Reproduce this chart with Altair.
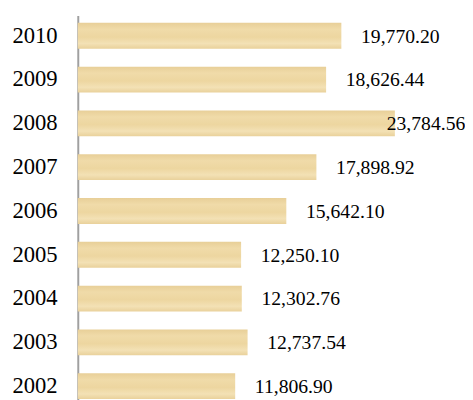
import altair as alt
import pandas as pd

years = ["2010", "2009", "2008", "2007", "2006", "2005", "2004", "2003", "2002"]
values = [19770.20, 18626.44, 23784.56, 17898.92, 15642.10, 12250.10, 12302.76, 12737.54, 11806.90]
labels = ["19,770.20", "18,626.44", "23,784.56", "17,898.92", "15,642.10",
          "12,250.10", "12,302.76", "12,737.54", "11,806.90"]

df = pd.DataFrame({"year": years, "value": values, "label": labels})

y_enc = alt.Y("year:N", sort=years, title=None,
              scale=alt.Scale(paddingInner=0.41, paddingOuter=0.17),
              axis=alt.Axis(labelFont="Liberation Serif", labelFontSize=23,
                            labelColor="#000000", labelPadding=21, ticks=False,
                            domainColor="#A0A0A0", domainWidth=2, grid=False))
x_scale = alt.Scale(domain=[0, 29045], nice=False)

fill = alt.Gradient(
    gradient="linear",
    stops=[
        alt.GradientStop(color="#E8CF98", offset=0),
        alt.GradientStop(color="#F0DBA9", offset=0.25),
        alt.GradientStop(color="#EDD6A0", offset=0.55),
        alt.GradientStop(color="#F3E1B5", offset=0.8),
        alt.GradientStop(color="#E9D19B", offset=1),
    ],
    x1=0, x2=0, y1=0, y2=1,
)

bars = alt.Chart(df).mark_bar(color=fill, clip=False).encode(
    x=alt.X("value:Q", scale=x_scale, axis=None),
    y=y_enc,
)

text = alt.Chart(df).transform_calculate(
    lx="min(datum.value, 21700)"
).mark_text(align="left", baseline="middle", dx=20, dy=1,
            font="Liberation Serif", fontSize=20, color="#000000").encode(
    x=alt.X("lx:Q", scale=x_scale, axis=None),
    y=alt.Y("year:N", sort=years),
    text="label:N",
)

chart = (bars + text).properties(
    width=394, height=398,
    padding={"left": 71, "top": 4, "right": 0, "bottom": 0},
    autosize=alt.AutoSizeParams(type="none"),
).configure_view(stroke=None)

chart.save("out.html", embed_options={"renderer": "svg", "actions": False})
